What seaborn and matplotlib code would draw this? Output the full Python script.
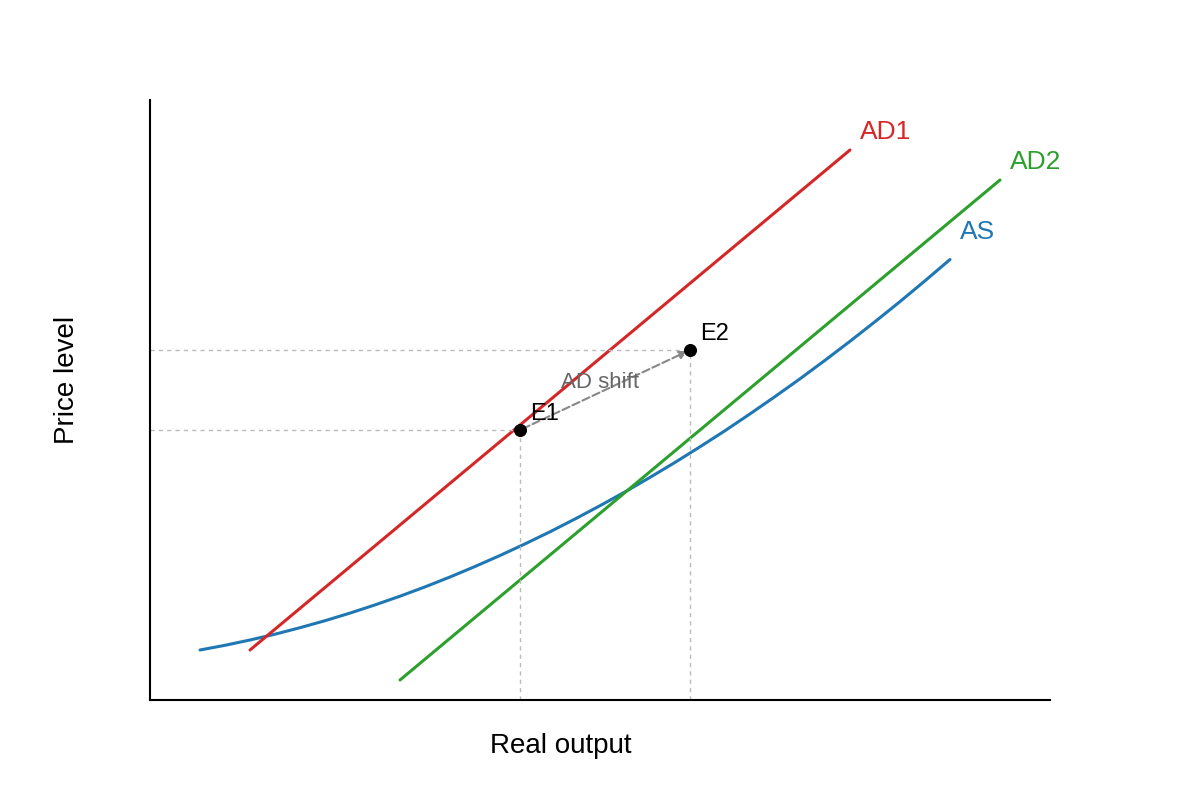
import matplotlib
matplotlib.use("Agg")
import matplotlib.pyplot as plt
import seaborn as sns

sns.set_theme(style="white")
plt.rcParams['font.family'] = ['Liberation Sans', 'DejaVu Sans']

ad1_x = [1.0, 7.0]
ad1_y = [0.5, 5.5]
ad2_x = [2.5, 8.5]
ad2_y = [0.2, 5.2]
as_x = [0.5, 0.75, 1.0, 1.25, 1.5, 1.75, 2.0, 2.25, 2.5, 2.75, 3.0, 3.25, 3.5, 3.75, 4.0,
        4.25, 4.5, 4.75, 5.0, 5.25, 5.5, 5.75, 6.0, 6.25, 6.5, 6.75, 7.0, 7.25, 7.5, 7.75, 8.0]
as_y = [0.500, 0.547, 0.600, 0.658, 0.723, 0.793, 0.869, 0.951, 1.038, 1.131, 1.230, 1.335,
        1.445, 1.561, 1.682, 1.810, 1.943, 2.081, 2.226, 2.376, 2.532, 2.693, 2.861, 3.034,
        3.212, 3.397, 3.587, 3.783, 3.984, 4.192, 4.405]
eq_names = ["E1", "E2"]
eq_x = [3.7, 5.4]
eq_y = [2.7, 3.5]

fig = plt.figure(figsize=(12, 8), dpi=100)
ax = fig.add_axes([0.125, 0.125, 0.75, 0.75])

sns.lineplot(x=as_x, y=as_y, ax=ax, color="#1f77b4", linewidth=2.2)
sns.lineplot(x=ad1_x, y=ad1_y, ax=ax, color="#d62728", linewidth=2.2)
sns.lineplot(x=ad2_x, y=ad2_y, ax=ax, color="#2ca02c", linewidth=2.2)

for x, y in zip(eq_x, eq_y):
    ax.plot([0, x], [y, y], linestyle=(0, (3, 3)), color="#bbbbbb", linewidth=1)
    ax.plot([x, x], [0, y], linestyle=(0, (3, 3)), color="#bbbbbb", linewidth=1)

ax.annotate("", xy=(eq_x[1], eq_y[1]), xytext=(eq_x[0], eq_y[0]),
            arrowprops=dict(arrowstyle="-|>", linestyle="--", color="#888888", lw=1.5))
sns.scatterplot(x=eq_x, y=eq_y, ax=ax, color="black", s=75, zorder=5, edgecolor="black")
for n, x, y in zip(eq_names, eq_x, eq_y):
    ax.text(x + 0.1, y + 0.1, n, fontsize=17, color="black")
ax.text((eq_x[0] + eq_x[1]) / 2 - 0.05, 3.17, "AD shift", fontsize=16, color="#666666", ha="center", va="center")

ax.text(7.1, 5.68, "AD1", fontsize=19, color="#d62728", va="center")
ax.text(8.6, 5.38, "AD2", fontsize=19, color="#2ca02c", va="center")
ax.text(8.1, 4.68, "AS", fontsize=19, color="#1f77b4", va="center")

ax.set_xlim(0, 9)
ax.set_ylim(0, 6)
ax.set_xticks([])
ax.set_yticks([])
ax.set_xlabel("Real output", fontsize=20, labelpad=22, color="black")
ax.set_ylabel("Price level", fontsize=20, labelpad=45, color="black")
ax.xaxis.set_label_coords(0.456, -0.055)
ax.yaxis.set_label_coords(-0.078, 0.533)
for s in ["top", "right"]:
    ax.spines[s].set_visible(False)
for s in ["left", "bottom"]:
    ax.spines[s].set_color("black")
    ax.spines[s].set_linewidth(1.5)

fig.savefig("out.png", dpi=100, facecolor="white")
